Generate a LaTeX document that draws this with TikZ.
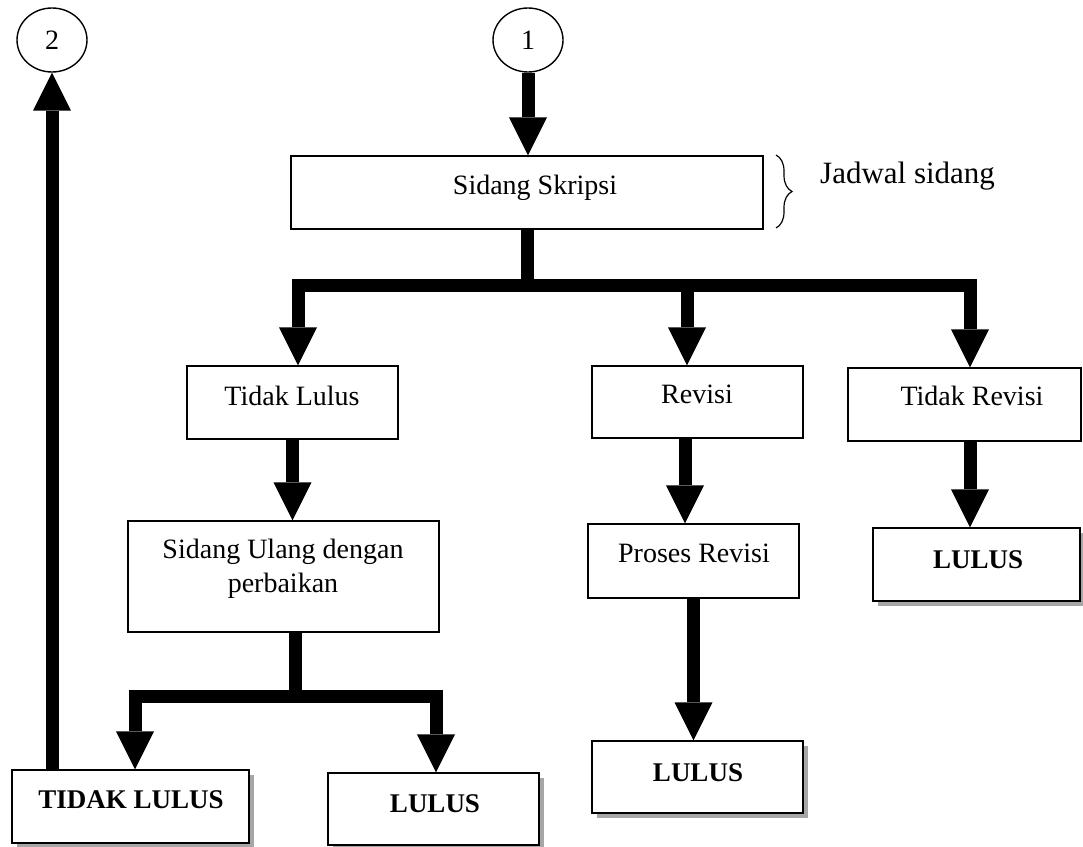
\documentclass[tikz,border=0pt]{standalone}
\usepackage{fontspec}
\setmainfont{Liberation Serif}
\usetikzlibrary{arrows.meta,shadows,shapes.geometric,decorations.pathreplacing}
\begin{document}
\begin{tikzpicture}[x=1pt,y=-1pt,
  box/.style={draw, line width=1.4pt, fill=white, inner sep=0pt},
  shbox/.style={box, drop shadow={shadow xshift=5pt, shadow yshift=-5pt, fill=black!35, opacity=1}},
  circ/.style={draw, ellipse, line width=1.4pt, minimum width=70pt, minimum height=64pt, inner sep=0pt, font=\fontsize{28}{32}\selectfont},
  txt/.style={font=\fontsize{28}{32}\selectfont, inner sep=0pt, anchor=base},
  btxt/.style={font=\fontsize{27}{32}\selectfont\bfseries, inner sep=0pt, anchor=base},
  fat/.style={line width=13pt, line join=miter, -{Triangle[width=38pt,length=38pt,line width=0pt]}},
  fatline/.style={line width=13pt, line join=miter}]
\useasboundingbox (0,0) rectangle (1083,846);

% circles
\node[circ] (c2) at (52,40) {2};
\node[circ] (c1) at (528,40) {1};

% boxes
\node[box, minimum width=472pt, minimum height=73pt] (ss) at (527,192.5) {};
\node[box, minimum width=211pt, minimum height=73pt] (tl) at (292.5,402.5) {};
\node[box, minimum width=211pt, minimum height=72pt] (rv) at (697.5,402) {};
\node[box, minimum width=233pt, minimum height=73pt] (tr) at (964.5,404.5) {};
\node[box, minimum width=311pt, minimum height=111pt] (su) at (283.5,576.5) {};
\node[box, minimum width=211pt, minimum height=74pt] (pr) at (693.5,561) {};
\node[shbox, minimum width=207pt, minimum height=73pt] (lb3) at (976.5,564.5) {};
\node[shbox, minimum width=237pt, minimum height=73pt] (tlb) at (130.5,806.5) {};
\node[shbox, minimum width=211pt, minimum height=72pt] (lb1) at (433.5,809) {};
\node[shbox, minimum width=211pt, minimum height=72pt] (lb2) at (697.5,777) {};

% texts
\node[txt] (tss) at (535,194) {Sidang Skripsi};
\node[txt] (ttl) at (292,405) {Tidak Lulus};
\node[txt] (trv) at (697,403) {Revisi};
\node[txt] (ttr) at (972,405) {Tidak Revisi};
\node[txt] (tsu1) at (283,558) {Sidang Ulang dengan};
\node[txt] (tsu2) at (283,592) {perbaikan};
\node[txt] (tpr) at (694,562) {Proses Revisi};
\node[btxt] (tlb3) at (978,568) {LULUS};
\node[btxt] (ttlb) at (131,808) {TIDAK LULUS};
\node[btxt] (tlb1) at (435,812) {LULUS};
\node[btxt] (tlb2) at (698,781) {LULUS};

% brace and note
\draw[line width=1.2pt, decorate, decoration={brace, amplitude=16pt, aspect=0.5}] (776,155) -- (776,228);
\node[font=\fontsize{31}{36}\selectfont, inner sep=0pt, anchor=base west] (jd) at (820,183) {Jadwal sidang};

% connectors
\draw[fat] (c1.south) -- (c1.south |- ss.north);
\coordinate (j1) at (527,285);
\draw[fatline] (ss.south) -- (j1);
\draw[fat] (j1) -| ([xshift=5.5pt]tl.north);
\draw[fat] (j1) -| ([xshift=-10.5pt]rv.north);
\draw[fat] (j1) -| ([xshift=5.5pt]tr.north);

\draw[fat] (tl.south) -- (tl.south |- su.north);
\coordinate (j2) at (295.5,696);
\draw[fatline] (su.south -| j2) -- (j2);
\draw[fat] (j2) -| ([xshift=4.5pt]tlb.north);
\draw[fat] (j2) -| ([xshift=2.5pt]lb1.north);
\draw[fat] (tlb.north -| c2.south) -- (c2.south);

\draw[fat] ([xshift=-12.5pt]rv.south) -- ([xshift=-12.5pt]rv.south |- pr.north);
\draw[fat] (pr.south) -- (pr.south |- lb2.north);
\draw[fat] ([xshift=5.5pt]tr.south) -- ([xshift=5.5pt]tr.south |- lb3.north);
\end{tikzpicture}
\end{document}
